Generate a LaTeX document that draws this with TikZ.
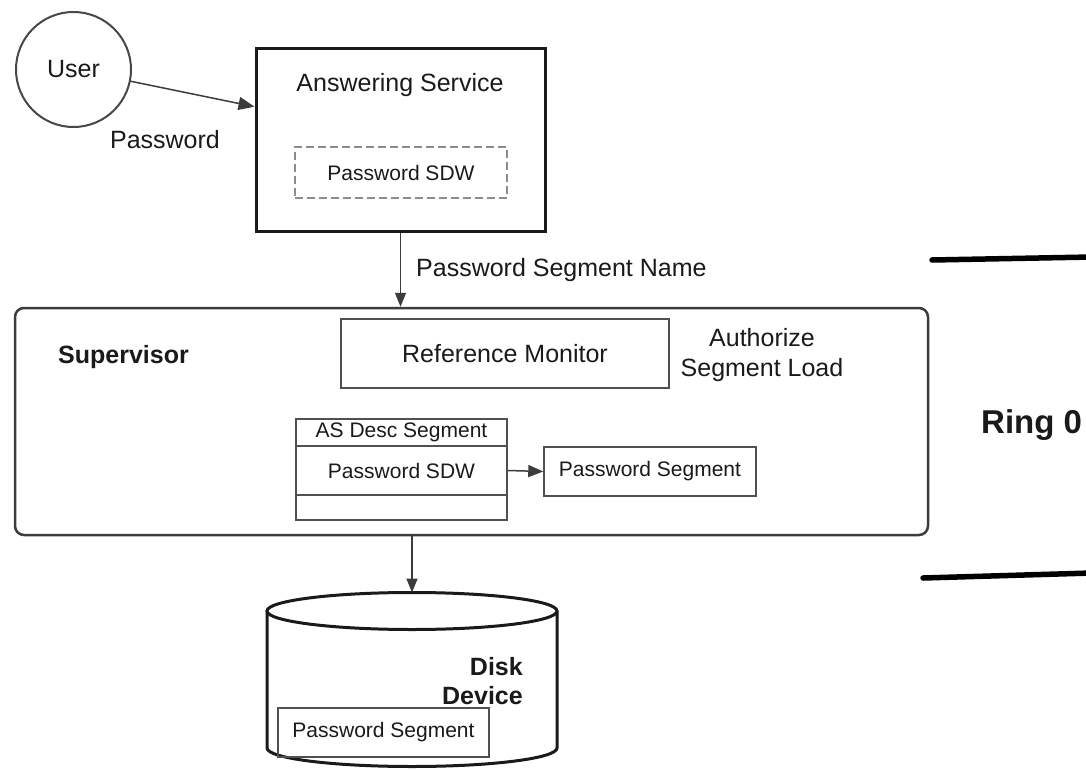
\documentclass[tikz,border=0pt]{standalone}
\usepackage{fontspec}
\setmainfont{Liberation Sans}
\usetikzlibrary{arrows.meta,calc}

\definecolor{ink}{HTML}{1A1A1A}
\definecolor{edge}{HTML}{505050}

\tikzset{
  lbl/.style={inner sep=0pt, text=ink, font=\fontsize{25}{30}\selectfont},
  lblbold/.style={inner sep=0pt, text=ink, font=\fontsize{25}{29}\selectfont\bfseries},
  thinbox/.style={draw=edge, line width=1.5pt, inner sep=0pt, text=ink,
                  font=\fontsize{21}{25}\selectfont},
  arr/.style={draw=ink!85, line width=1.5pt, -{Triangle[length=14pt,width=11pt]}},
}

\begin{document}
\begin{tikzpicture}[x=1pt, y=-1pt]
  \useasboundingbox (0,0) rectangle (1086,770);
  \fill[white] (0,0) rectangle (1086,770);
  \clip (0,0) rectangle (1086,770);

  % user and answering service
  \node[circle, draw=ink!80, line width=2pt, minimum size=115pt, inner sep=0pt,
        text=ink, font=\fontsize{25}{30}\selectfont] (user) at (73.5,69.5) {User};
  \node[draw=ink, line width=3pt, minimum width=289pt, minimum height=182pt,
        inner sep=0pt] (as) at (400.5,140) {};
  \node[lbl] (astitle) at (400,85) {Answering Service};
  \node[draw=gray!90, dash pattern=on 8pt off 4pt, line width=2pt,
        minimum width=212pt, minimum height=51pt, inner sep=0pt, text=ink,
        font=\fontsize{21}{25}\selectfont] (assdw) at (401,172.5) {Password SDW};
  \draw[arr, -{Triangle[length=16pt,width=13pt]}]
    (user) -- ($(as.north west)!0.32!(as.south west)$);
  \node[lbl] (pwlbl) at (165,140) {Password};

  % supervisor
  \node[draw=ink!85, line width=2.5pt, rounded corners=9pt,
        minimum width=913pt, minimum height=227pt, inner sep=0pt]
        (sup) at (471.5,421.5) {};
  \node[lblbold, anchor=west] (suplbl) at (58,357) {Supervisor};
  \node[thinbox, minimum width=328pt, minimum height=69pt,
        font=\fontsize{25}{30}\selectfont] (rm) at (505,353.5) {Reference Monitor};
  \node[lbl, align=center] (auth) at (762,355) {Authorize\\Segment Load};

  % AS descriptor segment table
  \node[thinbox, minimum width=211pt, minimum height=27pt] (row1) at (401.5,432.5) {AS Desc Segment};
  \node[thinbox, minimum width=211pt, minimum height=49pt] (row2) at (401.5,470.5) {Password SDW};
  \node[thinbox, minimum width=211pt, minimum height=25pt] (row3) at (401.5,507.5) {};
  \node[thinbox, minimum width=212pt, minimum height=49pt] (pseg) at (650,471.5) {Password Segment};
  \draw[arr, -{Triangle[length=15pt,width=12pt]}] (row2.east) -- (pseg.west);

  \draw[arr] (as.south) -- (as.south |- sup.north);
  \node[lbl, anchor=west] (segname) at (416,270) {Password Segment Name};

  % disk device
  \node[minimum width=290pt, minimum height=173.5pt, inner sep=0pt] (disk) at (412,679.5) {};
  \draw[ink, line width=3pt]
    (267,611) -- (267,748) arc[start angle=180, end angle=0, x radius=145, y radius=18.5]
    -- (557,611);
  \draw[ink, line width=3pt, fill=white] (412,611) ellipse[x radius=145, y radius=18.5];
  \draw[arr] (disk.north |- sup.south) -- (disk.north);
  \node[lblbold, align=right, anchor=east] (disklbl) at (523,681.5) {Disk\\Device};
  \node[thinbox, minimum width=211pt, minimum height=49pt] (dseg) at (383.5,732.5) {Password Segment};

  % ring 0 boundary
  \draw[black, line width=5.5pt, line cap=round] (932,260) -- (1092,257);
  \draw[black, line width=5.5pt, line cap=round] (923,578) -- (1092,573);
  \node[inner sep=0pt, anchor=base west, text=ink,
        font=\fontsize{33}{40}\selectfont\bfseries] (ring) at (981,433) {Ring 0};
\end{tikzpicture}
\end{document}
